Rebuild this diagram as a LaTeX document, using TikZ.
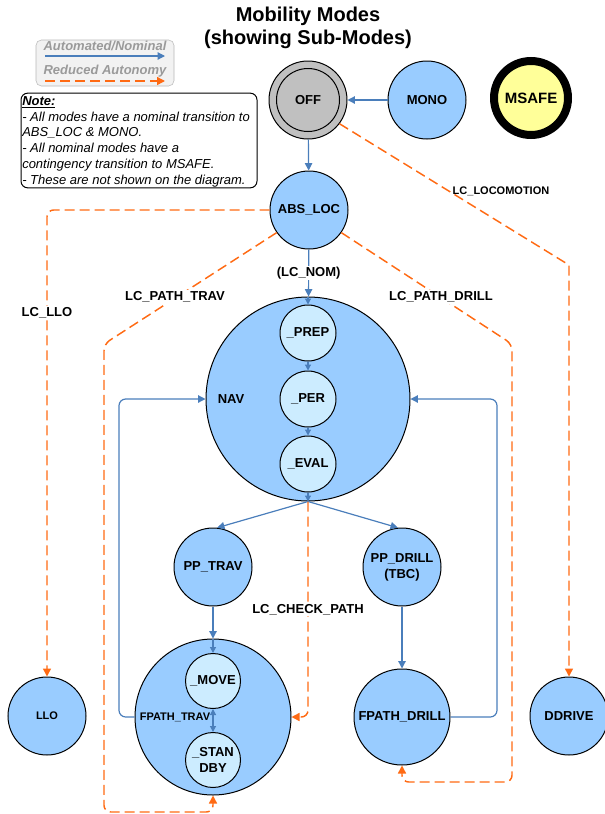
\documentclass[tikz,border=0pt]{standalone}
\usepackage{fontspec}
\setmainfont{Liberation Sans}
\usetikzlibrary{arrows.meta}
\definecolor{nodeblue}{HTML}{99CCFF}
\definecolor{subblue}{HTML}{CCECFF}
\definecolor{offgray}{HTML}{C0C0C0}
\definecolor{safeyellow}{HTML}{FFFF99}
\definecolor{lineblue}{HTML}{4A7EBB}
\definecolor{lineorange}{HTML}{FF6A13}
\definecolor{legendgray}{HTML}{F2F2F2}
\definecolor{legendtext}{HTML}{9A9A9A}
\tikzset{
  fs/.style={font=\bfseries\fontsize{9.75}{12}\selectfont},
  fss/.style={font=\bfseries\fontsize{8.25}{10}\selectfont},
  mode/.style={circle,draw=black,line width=0.75pt,fill=nodeblue,inner sep=0pt,minimum size=58.5pt,fs,align=center},
  submode/.style={circle,draw=black,line width=0.75pt,fill=subblue,inner sep=0pt,minimum size=42pt,fs,align=center},
  lbl/.style={fs,inner sep=1pt},
  nominal/.style={draw=lineblue,line width=0.9pt,-{Triangle[length=5.5pt,width=5.5pt]}},
  smallnom/.style={draw=lineblue,line width=0.9pt,-{Triangle[length=4.5pt,width=4.5pt]}},
  reduced/.style={draw=lineorange,line width=1.1pt,dash pattern=on 7.5pt off 3.75pt,-{Triangle[length=6pt,width=6pt]}},
}
\begin{document}
\begin{tikzpicture}[x=0.75pt,y=-0.75pt]
\useasboundingbox (0,0) rectangle (605,814);

% title
\node[font=\bfseries\fontsize{15}{17.25}\selectfont,align=center] (title) at (308,28) {Mobility Modes\\(showing Sub-Modes)};

% legend
\node[draw=legendtext!70,fill=legendgray,rounded corners=4pt,minimum width=103.5pt,minimum height=34.5pt,inner sep=0pt] (legend) at (105,63) {};
\node[font=\bfseries\itshape\fontsize{9.75}{12}\selectfont,text=legendtext,inner sep=0pt] (legA) at (105,46) {Automated/Nominal};
\node[font=\bfseries\itshape\fontsize{9.75}{12}\selectfont,text=legendtext,inner sep=0pt] (legR) at (105,71) {Reduced Autonomy};
\coordinate (la1) at (45,56); \coordinate (la2) at (165,56);
\coordinate (lr1) at (45,81); \coordinate (lr2) at (165,81);
\draw[nominal] (la1) -- (la2);
\draw[reduced] (lr1) -- (lr2);

% note
\node[draw=black,line width=0.75pt,rounded corners=5pt,minimum width=177pt,minimum height=71pt,inner sep=0pt] (notebox) at (139,140.5) {};
\node[anchor=north west,inner sep=0pt,align=left,font=\itshape\fontsize{9.75}{11.85}\selectfont] (notetext) at (22,96)
 {\textbf{\underline{Note:}}\\- All modes have a nominal transition to\\ABS\_LOC \& MONO.\\- All nominal modes have a\\contingency transition to MSAFE.\\- These are not shown on the diagram.};

% top nodes
\node[mode,fill=offgray] (off) at (308,100) {};
\node[circle,draw=black,line width=0.75pt,minimum size=47.25pt,inner sep=0pt,fs] (offin) at (308,100) {OFF};
\node[mode] (mono) at (427,100) {MONO};
\node[circle,draw=black,line width=6pt,fill=safeyellow,minimum size=55.5pt,inner sep=0pt,font=\bfseries\fontsize{11.25}{13}\selectfont] (msafe) at (531,98) {MSAFE};

\node[mode] (abs) at (309,210) {ABS\_LOC};

% NAV
\node[mode,minimum size=153pt] (nav) at (308,399) {};
\node[lbl] (navlbl) at (231,399) {NAV};
\node[submode] (prep) at (308,333) {\_PREP};
\node[submode] (per) at (308,399) {\_PER};
\node[submode] (eval) at (308,464) {\_EVAL};

\node[mode] (pptrav) at (213,567) {PP\_TRAV};
\node[mode] (ppdrill) at (402,567) {PP\_DRILL\\(TBC)};

\node[mode,minimum size=117pt] (fpathtrav) at (213,717) {};
\node[submode,minimum size=41.25pt] (move) at (213,681) {\_MOVE};
\node[submode,minimum size=41.25pt] (standby) at (213,760) {\_STAN\\DBY};
\node[fss,inner sep=0pt] (ftlbl) at (175,717) {FPATH\_TRAV};

\node[mode,minimum size=72pt] (fpathdrill) at (402,717) {FPATH\_DRILL};

\node[mode,fss] (llo) at (47,716) {LLO};
\node[mode] (ddrive) at (569,716) {DDRIVE};

% nominal connectors
\draw[nominal] (mono) -- (off);
\draw[nominal] (off) -- (abs);
\draw[nominal] (abs) -- node[lbl,fill=white] (lcnom) {(LC\_NOM)} (nav);
\draw[smallnom] (nav.north) -- (prep.north);
\draw[smallnom] (prep) -- (per);
\draw[smallnom] (per) -- (eval);
\draw[smallnom] (eval.south) -- (nav.south);
\draw[nominal] (nav.south) -- (pptrav.84);
\draw[nominal] (nav.south) -- (ppdrill.96);
\draw[nominal] (pptrav) -- (fpathtrav.north);
\draw[smallnom] (fpathtrav.north) -- (move.north);
\draw[smallnom,{Triangle[length=4.5pt,width=4.5pt]}-{Triangle[length=4.5pt,width=4.5pt]}] (move) -- (standby);
\draw[nominal] (ppdrill) -- (fpathdrill);
\coordinate (lturn) at (119,399);
\coordinate (rturn) at (497,399);
\draw[nominal,rounded corners=5pt] (fpathtrav.west) -| (lturn) -- (nav.west);
\draw[nominal,rounded corners=5pt] (fpathdrill.east) -| (rturn) -- (nav.east);

% reduced autonomy connectors
\coordinate (dturn) at (569,265);
\draw[reduced] (off.-37) -- (dturn) -- (ddrive.north);
\node[fss,inner sep=0pt] (lcloco) at (501,191) {LC\_LOCOMOTION};

\draw[reduced,rounded corners=5pt] (abs.west) -| node[lbl,fill=white,pos=0.61] (lcllo) {LC\_LLO} (llo.north);

\coordinate (ptl) at (104,344);
\coordinate (ptbl) at (104,812);
\draw[reduced,rounded corners=5pt] (abs.215) -- (ptl) -- (ptbl) -| (fpathtrav.south);
\node[lbl,fill=white] (lcpt) at (175,297) {LC\_PATH\_TRAV};

\coordinate (pdr) at (512,344);
\coordinate (pdrb) at (512,782);
\draw[reduced,rounded corners=5pt] (abs.-35) -- (pdr) -- (pdrb) -| (fpathdrill.south);
\node[lbl,fill=white] (lcpd) at (441,297) {LC\_PATH\_DRILL};

\draw[reduced,rounded corners=5pt] (nav.south) |- node[lbl,fill=white,pos=0.25] (lccp) {LC\_CHECK\_PATH} (fpathtrav.east);
\end{tikzpicture}
\end{document}
